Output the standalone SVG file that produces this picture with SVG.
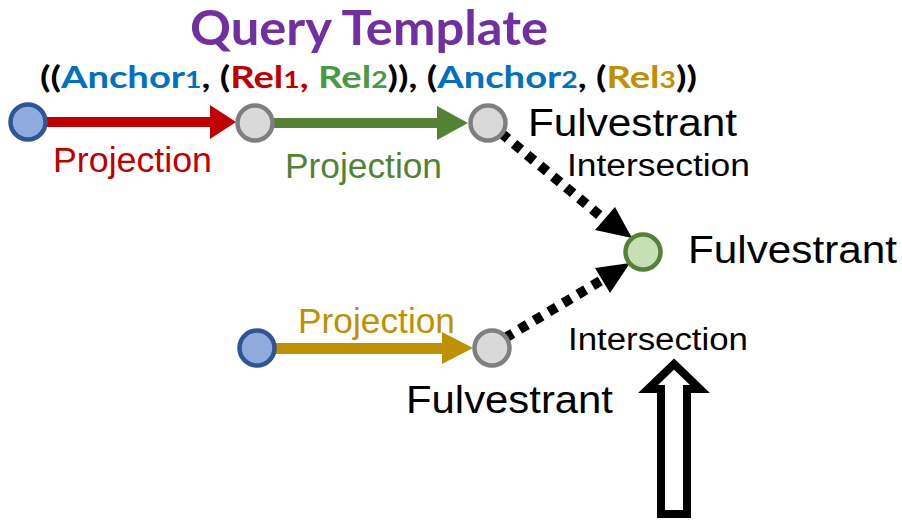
<svg xmlns="http://www.w3.org/2000/svg" width="902" height="528" viewBox="0 0 902 528">
<style>
.lbl{font-family:"Liberation Sans",Arial,sans-serif;}
.hd{font-family:Lato,"Open Sans",sans-serif;font-weight:bold;}
.anchor{fill:#8FAADC;stroke:#2F5597;stroke-width:4.5;}
.mid{fill:#D9D9D9;stroke:#7F7F7F;stroke-width:4.5;}
.tgt{fill:#C5E0B4;stroke:#548235;stroke-width:4.5;}
.dot{stroke:#000;stroke-width:10;stroke-dasharray:9 8;fill:none;}
</style>
<rect width="902" height="528" fill="#fff"/>
<g id="title">
<text class="hd" x="190" y="45" font-size="47" fill="#7030A0" textLength="358" lengthAdjust="spacingAndGlyphs">Query Template</text>
<text class="hd" x="40" y="88" font-size="31" fill="#000" textLength="657" lengthAdjust="spacingAndGlyphs">((<tspan fill="#0070C0">Anchor<tspan font-size="23">1</tspan></tspan>, (<tspan fill="#C00000">Rel<tspan font-size="23">1</tspan>,</tspan> <tspan fill="#4A9A44">Rel<tspan font-size="23">2</tspan></tspan>)), (<tspan fill="#0070C0">Anchor<tspan font-size="23">2</tspan></tspan>, (<tspan fill="#BF9000">Rel<tspan font-size="23">3</tspan></tspan>))</text>
</g>
<g id="connectors">
<g id="proj1">
<rect x="46" y="117" width="166" height="10" fill="#C00000"/>
<polygon points="210,105 236,122 210,139" fill="#C00000"/>
<text class="lbl" x="53" y="172" font-size="35" fill="#C00000" textLength="159" lengthAdjust="spacingAndGlyphs">Projection</text>
</g>
<g id="proj2">
<rect x="273" y="118" width="166" height="10" fill="#548235"/>
<polygon points="437,106 468,123 437,140" fill="#548235"/>
<text class="lbl" x="285" y="178" font-size="35" fill="#548235" textLength="157" lengthAdjust="spacingAndGlyphs">Projection</text>
</g>
<g id="proj3">
<rect x="275" y="343" width="170" height="11" fill="#BF9000"/>
<polygon points="442,332 473,348 442,364" fill="#BF9000"/>
<text class="lbl" x="298" y="333" font-size="35" fill="#BF9000" textLength="157" lengthAdjust="spacingAndGlyphs">Projection</text>
</g>
<g id="inter1">
<line class="dot" x1="501" y1="133" x2="604" y2="219"/>
<polygon points="595,230 615,207 632,238"/>
<text class="lbl" x="567" y="176" font-size="31" textLength="183" lengthAdjust="spacingAndGlyphs">Intersection</text>
</g>
<g id="inter2">
<line class="dot" x1="505" y1="338" x2="602" y2="280"/>
<polygon points="595,268 610,293 630,263"/>
<text class="lbl" x="568" y="350" font-size="31" textLength="180" lengthAdjust="spacingAndGlyphs">Intersection</text>
</g>
</g>
<g id="nodeA"><circle class="anchor" cx="28" cy="122" r="17.5"/></g>
<g id="nodeB"><circle class="mid" cx="255" cy="123" r="17.5"/>
</g>
<g id="nodeC"><circle class="mid" cx="488" cy="123" r="17.5"/>
<text class="lbl" x="528" y="136" font-size="38" textLength="209" lengthAdjust="spacingAndGlyphs">Fulvestrant</text>
</g>
<g id="nodeD"><circle class="tgt" cx="643" cy="252" r="17.5"/>
<text class="lbl" x="688" y="263" font-size="38" textLength="209" lengthAdjust="spacingAndGlyphs">Fulvestrant</text>
</g>
<g id="nodeE"><circle class="anchor" cx="257" cy="348" r="17.5"/></g>
<g id="nodeF"><circle class="mid" cx="492" cy="348" r="17.5"/>
<text class="lbl" x="406" y="413" font-size="38" textLength="207" lengthAdjust="spacingAndGlyphs">Fulvestrant</text>
</g>
<g id="bigarrow">
<polygon points="674,364 700,389 687,389 687,514 661,514 661,389 648,389" fill="#fff" stroke="#000" stroke-width="8" stroke-linejoin="miter"/>
</g>
</svg>
